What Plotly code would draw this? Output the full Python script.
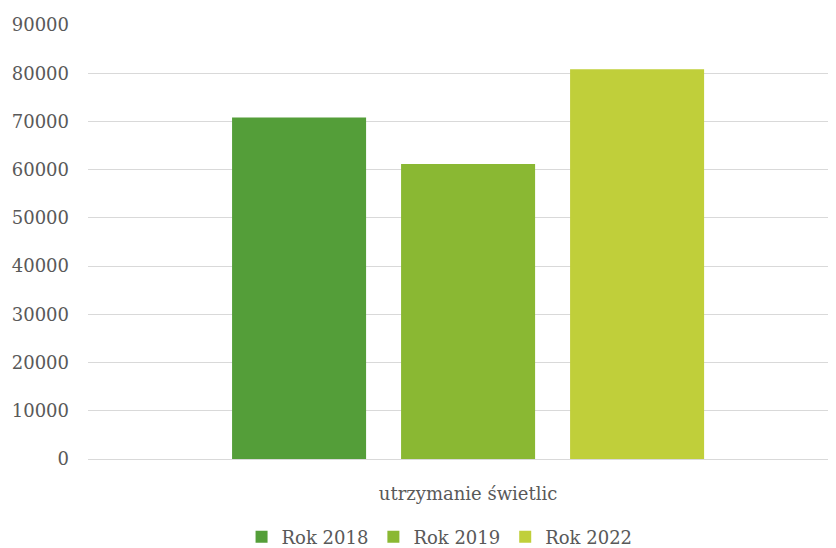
import plotly.graph_objects as go

categories = ["utrzymanie świetlic"]
series_names = ["Rok 2018", "Rok 2019", "Rok 2022"]
values_2018 = [70800]
values_2019 = [61200]
values_2022 = [80800]
colors = ["#549E39", "#8AB833", "#C0CF3A"]
y_ticks = list(range(0, 90001, 10000))

FONT = "DejaVu Serif"
GREY = "#595959"

fig = go.Figure()
for name, vals, col in zip(series_names, [values_2018, values_2019, values_2022], colors):
    fig.add_trace(go.Bar(x=categories, y=vals, name=name, marker=dict(color=col, line=dict(width=0))))

fig.update_layout(
    width=828, height=540,
    barmode="group", bargap=0.333, bargroupgap=0.207,
    paper_bgcolor="white", plot_bgcolor="white",
    margin=dict(l=80, r=0, t=17, b=89, autoexpand=False),
    font=dict(family=FONT, size=18, color=GREY),
    showlegend=True,
    legend=dict(orientation="h", x=0.47, xanchor="center", y=-0.18, yanchor="middle",
                font=dict(family=FONT, size=18, color=GREY), itemwidth=30, traceorder="normal"),
    yaxis=dict(range=[0, 90000], tickvals=y_ticks, ticktext=[str(v) for v in y_ticks],
               showgrid=True, gridcolor="#D9D9D9", gridwidth=1, zeroline=True,
               zerolinecolor="#D9D9D9", zerolinewidth=1, ticks="", ticklabelstandoff=18,
               tickfont=dict(family=FONT, size=18, color=GREY), showline=False),
    xaxis=dict(range=[-0.5, 0.484], showline=True, linecolor="#D9D9D9", ticks="",
               tickfont=dict(family=FONT, size=18, color=GREY), ticklabelstandoff=18),
)

fig.write_html("out.html")
